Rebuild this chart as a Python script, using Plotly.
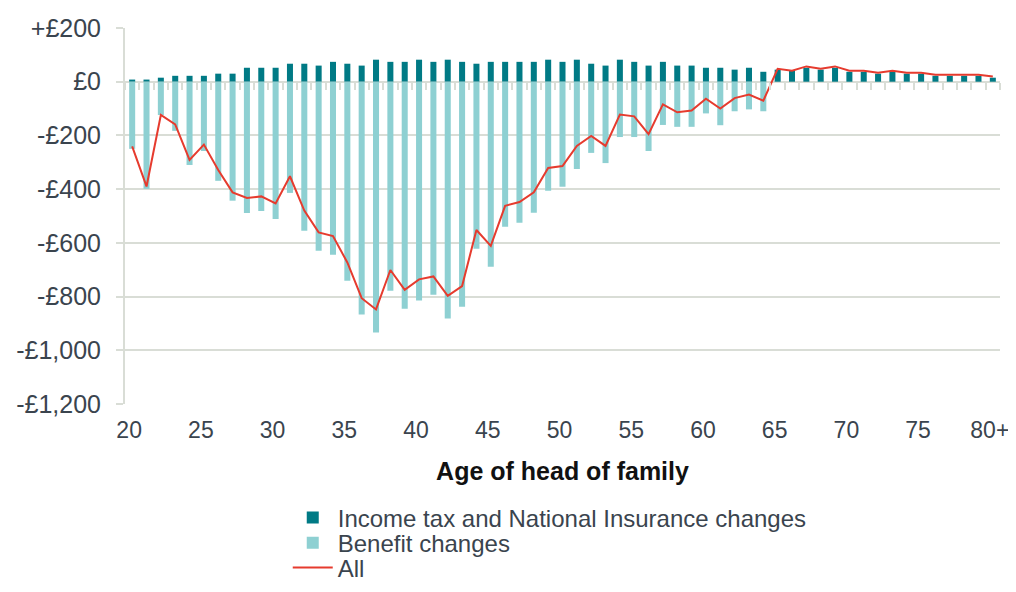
import plotly.graph_objects as go

ages = ["20", "21", "22", "23", "24", "25", "26", "27", "28", "29",
        "30", "31", "32", "33", "34", "35", "36", "37", "38", "39",
        "40", "41", "42", "43", "44", "45", "46", "47", "48", "49",
        "50", "51", "52", "53", "54", "55", "56", "57", "58", "59",
        "60", "61", "62", "63", "64", "65", "66", "67", "68", "69",
        "70", "71", "72", "73", "74", "75", "76", "77", "78", "79", "80+"]

tax_ni = [8, 8, 15, 22, 22, 22, 30, 30, 52, 52,
          52, 67, 67, 60, 74, 67, 60, 82, 74, 74,
          82, 74, 82, 74, 67, 74, 74, 74, 74, 82,
          74, 82, 67, 60, 82, 74, 60, 74, 60, 60,
          52, 52, 45, 52, 37, 45, 41, 52, 45, 52,
          37, 37, 30, 37, 30, 30, 22, 22, 22, 22, 15]

benefits = [-250, -399, -124, -183, -310, -258, -369, -443, -489, -481,
            -511, -414, -555, -629, -644, -741, -867, -934, -778, -845,
            -815, -793, -882, -838, -622, -689, -540, -525, -488, -406,
            -391, -325, -265, -303, -206, -206, -258, -161, -168, -168,
            -118, -162, -110, -103, -110, 0, 0, 0, 0, 0,
            0, 0, 0, 0, 0, 0, 0, 0, 0, 0, 0]

all_changes = [-241, -390, -124, -159, -291, -234, -329, -412, -433, -427,
               -453, -352, -480, -561, -575, -673, -806, -848, -701, -775,
               -736, -725, -797, -761, -552, -611, -462, -448, -412, -321,
               -314, -239, -202, -239, -122, -129, -195, -84, -114, -107,
               -63, -100, -61, -48, -71, 48, 41, 57, 48, 57,
               41, 41, 33, 41, 33, 33, 26, 26, 26, 26, 19]

y_tickvals = [200, 0, -200, -400, -600, -800, -1000, -1200]
y_ticktext = ["+£200", "£0", "-£200", "-£400", "-£600", "-£800", "-£1,000", "-£1,200"]
x_tickvals = ["20", "25", "30", "35", "40", "45", "50", "55", "60", "65", "70", "75", "80+"]

FONT = "Liberation Sans, Arial, sans-serif"
TXT = "#3a444e"
GRID = "#d9ddd6"

fig = go.Figure()
fig.add_trace(go.Bar(x=ages, y=tax_ni, name="Income tax and National Insurance changes",
                     marker=dict(color="#007a85", line=dict(width=0)), legend="legend"))
fig.add_trace(go.Bar(x=ages, y=benefits, name="Benefit changes",
                     marker=dict(color="#8ed0d2", line=dict(width=0)), legend="legend2"))
fig.add_trace(go.Scatter(x=ages, y=all_changes, name="All", mode="lines",
                         line=dict(color="#e63b2e", width=2), xaxis="x2", legend="legend3"))

leg_common = dict(x=0.186, xanchor="left", yanchor="middle", orientation="v",
                  font=dict(size=24, color=TXT), itemwidth=40,
                  bgcolor="rgba(0,0,0,0)")

fig.update_layout(
    width=1000, height=576,
    margin=dict(l=117, r=8, t=20, b=180, autoexpand=False),
    paper_bgcolor="white", plot_bgcolor="white",
    barmode="relative", bargap=0.58,
    font=dict(family=FONT, color=TXT, size=25),
    showlegend=True,
    legend=dict(y=-0.303, **leg_common),
    legend2=dict(y=-0.370, **leg_common),
    legend3=dict(y=-0.436, **leg_common),
    xaxis=dict(type="category", categoryorder="array", categoryarray=ages,
               range=[-0.5, 60.5], tickmode="array", tickvals=x_tickvals,
               ticks="", showgrid=False, showline=False, zeroline=False,
               tickfont=dict(size=23, color=TXT), ticklabelstandoff=10,
               ticklabelshift=-3,
               title=dict(text="<b>Age of head of family</b>",
                          font=dict(size=25, color="#111111"), standoff=20)),
    xaxis2=dict(type="category", categoryorder="array", categoryarray=ages,
                range=[-0.5, 60.5], overlaying="x", anchor="free",
                position=1200 / 1400, side="bottom", showgrid=False,
                showline=False, zeroline=False, showticklabels=False,
                ticks="outside", tickson="boundaries", ticklen=7, tickwidth=2,
                tickcolor=GRID, tickmode="linear"),
    yaxis=dict(range=[-1200, 200], tickmode="array", tickvals=y_tickvals,
               ticktext=y_ticktext, showgrid=True, gridcolor=GRID, gridwidth=2,
               zeroline=True, zerolinecolor=GRID, zerolinewidth=2,
               showline=True, linecolor=GRID, linewidth=2,
               ticks="outside", ticklen=7, tickcolor=GRID, tickwidth=2,
               tickfont=dict(size=25, color=TXT), ticklabelstandoff=10),
)

fig.write_html("out.html")
